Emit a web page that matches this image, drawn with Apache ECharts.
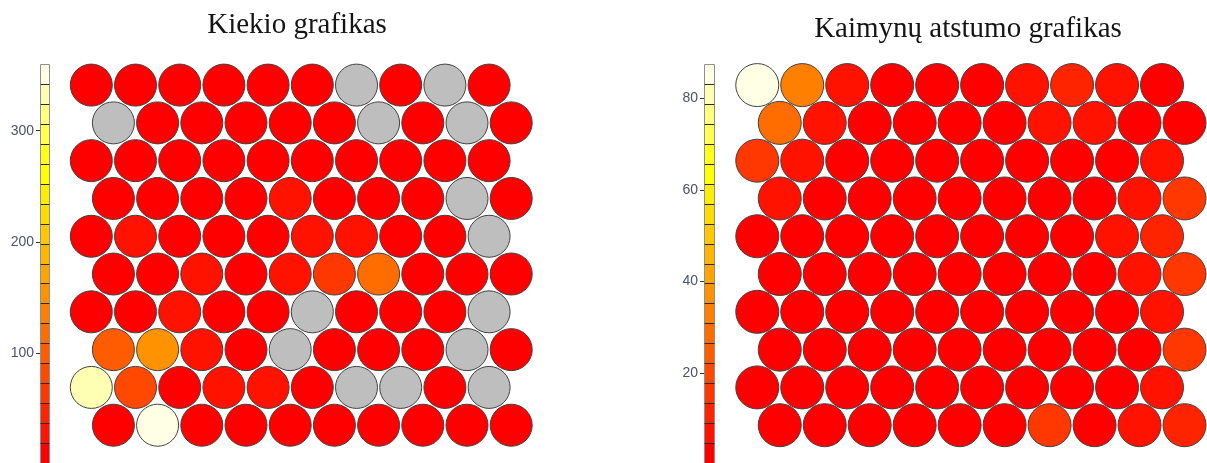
<!DOCTYPE html>
<html>
<head>
<meta charset="utf-8">
<script src="https://cdn.jsdelivr.net/npm/echarts@6/dist/echarts.min.js"></script>
<style>
  html, body { margin: 0; padding: 0; background: #ffffff; }
  #chart { width: 1207px; height: 463px; }
</style>
</head>
<body>
<div id="chart"></div>
<script>
// SOM unit maps on a 10x10 hexagonal grid, rows listed top to bottom.
const titles = ['Kiekio grafikas', 'Kaimynų atstumo grafikas'];

// Hits per unit (0 = empty unit, drawn grey)
const countRows = [
  [6, 9, 4, 11, 7, 3, 0, 5, 0, 8],
  [0, 10, 7, 12, 6, 14, 0, 9, 0, 13],
  [8, 12, 5, 9, 13, 7, 10, 6, 11, 4],
  [11, 7, 14, 10, 24, 12, 8, 15, 0, 9],
  [13, 27, 9, 12, 16, 22, 29, 11, 6, 0],
  [10, 15, 26, 12, 31, 60, 118, 14, 8, 13],
  [12, 9, 28, 16, 11, 0, 7, 10, 5, 0],
  [96, 152, 33, 14, 0, 9, 12, 6, 0, 10],
  [335, 78, 17, 21, 25, 13, 0, 0, 1, 0],
  [14, 360, 11, 8, 15, 12, 9, 13, 7, 10]
];

// Summed distance to neighbouring units
const distRows = [
  [87.4, 33, 7, 3, 2.5, 3.5, 6.5, 11, 7.5, 4],
  [29, 7, 3.5, 2.8, 3.2, 4, 6, 7, 4.2, 3.6],
  [16, 6.5, 3, 2.6, 2.9, 3.4, 3.1, 3.8, 4.1, 7.2],
  [6.8, 3.3, 2.7, 3.0, 2.4, 2.8, 3.5, 4.0, 7.5, 15.5],
  [3.9, 3.1, 2.6, 2.9, 3.2, 2.7, 3.6, 4.3, 6.2, 10.5],
  [3.4, 2.9, 0.5, 2.8, 3.0, 2.6, 3.3, 4.4, 6.6, 14],
  [3.7, 3.0, 2.6, 2.9, 2.7, 3.1, 3.4, 4.2, 4.6, 7.0],
  [4.1, 3.2, 2.8, 3.0, 2.5, 2.9, 3.6, 3.9, 4.5, 16.0],
  [4.4, 3.5, 3.1, 2.7, 2.9, 3.3, 3.8, 4.2, 4.7, 6.8],
  [3.9, 3.6, 3.2, 3.0, 2.8, 3.4, 15, 4.3, 7.4, 11]
];

const countTicks = [100, 200, 300];
const distTicks = [20, 40, 60, 80];

// heat palette, 20 levels from low (red) to high (pale yellow)
const heatPalette = [
  '#FF0000', '#FF1200', '#FF2400', '#FF3700', '#FF4900',
  '#FF5B00', '#FF6D00', '#FF8000', '#FF9200', '#FFA400',
  '#FFB600', '#FFC800', '#FFDB00', '#FFED00', '#FFFF00',
  '#FFFF1A', '#FFFF4D', '#FFFF80', '#FFFFB3', '#FFFFE6'
];
const EMPTY_UNIT = '#BEBEBE';

function hexPoints(rows) {
  const pts = [];
  rows.forEach((row, r) => row.forEach((v, c) => pts.push([c + (r % 2) * 0.5, r, v])));
  return pts;
}

function valueRange(rows) {
  const vals = rows.flat().filter(v => v > 0);
  return [Math.min(...vals), Math.max(...vals)];
}

function colourPieces(lo, hi) {
  const step = (hi - lo) / heatPalette.length;
  const pieces = [{ value: 0, color: EMPTY_UNIT }];
  heatPalette.forEach((c, i) => {
    const p = { lte: i === heatPalette.length - 1 ? hi + 1e-9 : lo + (i + 1) * step, color: c };
    if (i === 0) p.gte = lo - 1e-9; else p.gt = lo + i * step;
    pieces.push(p);
  });
  return pieces;
}

function legendSegments(lo, hi) {
  const step = (hi - lo) / heatPalette.length;
  return heatPalette.map((c, i) => [lo + i * step, lo + (i + 1) * step, lo + (i + 0.5) * step]);
}

// one colour-key cell: filled box, grey side edges, dark separator on top
function renderSegment(params, api) {
  const p0 = api.coord([0, api.value(0)]);
  const p1 = api.coord([1, api.value(1)]);
  const x = Math.round(p0[0]) + 0.5;
  const w = Math.round(p1[0] - p0[0]);
  const yTop = Math.round(p1[1]) + 0.5;
  const yBot = Math.round(p0[1]) + 0.5;
  const topEdge = params.dataIndex === params.dataInsideLength - 1;
  return {
    type: 'group',
    children: [
      { type: 'rect', shape: { x: x, y: yTop, width: w, height: yBot - yTop },
        style: { fill: api.visual('color'), stroke: null } },
      { type: 'line', shape: { x1: x, y1: yTop, x2: x, y2: yBot },
        style: { stroke: '#8f8f8f', lineWidth: 1 } },
      { type: 'line', shape: { x1: x + w, y1: yTop, x2: x + w, y2: yBot },
        style: { stroke: '#8f8f8f', lineWidth: 1 } },
      { type: 'line', shape: { x1: x, y1: yTop, x2: x + w, y2: yTop },
        style: { stroke: topEdge ? '#8f8f8f' : '#2b2b2b', lineWidth: 1 }, z2: 10 }
    ]
  };
}

const panels = [
  { rows: countRows, ticks: countTicks, title: titles[0], titleX: 292, titleTop: 6,
    bar: { left: 40, top: 64, width: 9, height: 404 },
    hex: { left: 47.1, top: 47.3, width: 486.2, height: 433.4 }, size: 42 },
  { rows: distRows, ticks: distTicks, title: titles[1], titleX: 963, titleTop: 10,
    bar: { left: 704, top: 64, width: 10, height: 404 },
    hex: { left: 712.3, top: 47.3, width: 502.7, height: 433.4 }, size: 43 }
];

const option = {
  animation: false,
  title: [], grid: [], xAxis: [], yAxis: [], series: [], visualMap: []
};

panels.forEach((p, k) => {
  const [lo, hi] = valueRange(p.rows);
  const g = k * 2;
  option.title.push({
    text: p.title, left: p.titleX, top: p.titleTop, textAlign: 'center',
    textStyle: { fontFamily: 'Liberation Serif', fontSize: 29, fontWeight: 'normal', color: '#141414' }
  });
  option.grid.push(Object.assign({ containLabel: false }, p.bar));
  option.grid.push(Object.assign({ containLabel: false }, p.hex));
  option.xAxis.push({ type: 'value', gridIndex: g, min: 0, max: 1, show: false });
  option.yAxis.push({
    type: 'value', gridIndex: g, min: lo, max: hi,
    axisLine: { show: false }, splitLine: { show: false },
    axisTick: { show: true, customValues: p.ticks, length: 4, lineStyle: { color: '#333333', width: 1 } },
    axisLabel: { customValues: p.ticks, color: '#4a5466', fontFamily: 'Liberation Sans', fontSize: 14, margin: 6 }
  });
  option.xAxis.push({ type: 'value', gridIndex: g + 1, min: -1, max: 10, show: false });
  option.yAxis.push({ type: 'value', gridIndex: g + 1, min: -1, max: 10, inverse: true, show: false });
  option.series.push({
    type: 'custom', xAxisIndex: g, yAxisIndex: g, silent: true,
    encode: { y: [0, 1] }, data: legendSegments(lo, hi), renderItem: renderSegment
  });
  option.series.push({
    type: 'scatter', xAxisIndex: g + 1, yAxisIndex: g + 1, silent: true, clip: false,
    symbol: 'circle', symbolSize: p.size, data: hexPoints(p.rows),
    itemStyle: { borderColor: '#404040', borderWidth: 1, opacity: 1 }
  });
  option.visualMap.push({
    type: 'piecewise', show: false, dimension: 2,
    seriesIndex: [g, g + 1], pieces: colourPieces(lo, hi)
  });
});

const chart = echarts.init(document.getElementById('chart'), null, { renderer: 'canvas' });
chart.setOption(option);
</script>
</body>
</html>
